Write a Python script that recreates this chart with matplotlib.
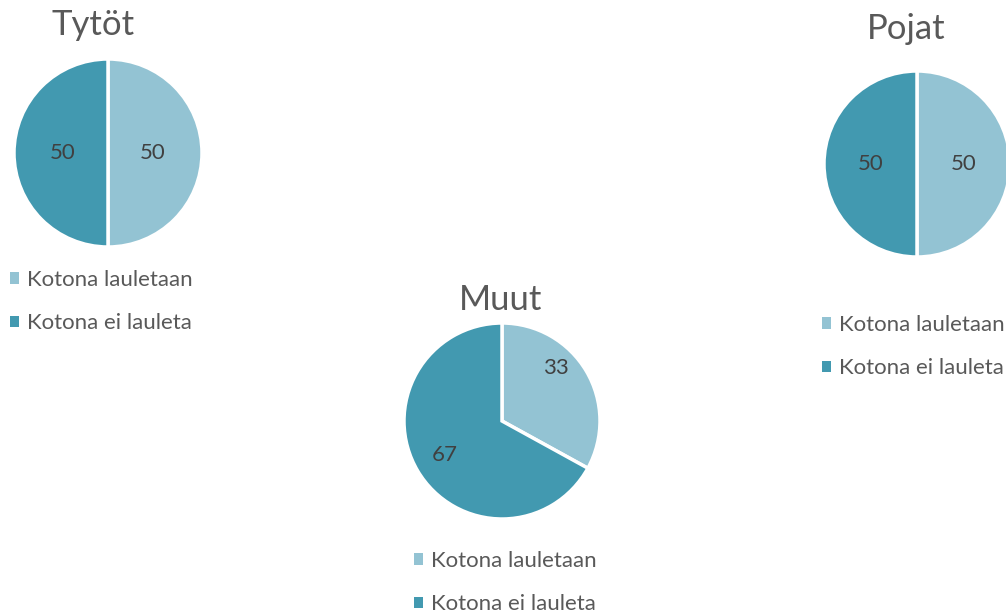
import numpy as np
import matplotlib.pyplot as plt
from matplotlib.legend import Legend

# data
categories = ["Kotona lauletaan", "Kotona ei lauleta"]
titles = ["Tytöt", "Pojat", "Muut"]
tytot_values = [50, 50]
pojat_values = [50, 50]
muut_values = [33, 67]

colors = ["#93c3d3", "#4299b0"]
H = 613

plt.rcParams['font.family'] = ['Lato', 'DejaVu Sans']

fig = plt.figure(figsize=(10.06, 6.13), dpi=100)
ax = fig.add_axes([0, 0, 1, 1])

# layout in pixel coords: (cx, cy, r, title xy, legend xy, pctdistance)
layout = [
    (tytot_values, titles[0], 108, 153, 94, (93, 25), (10, 270), 0.48),
    (pojat_values, titles[1], 917, 164, 93, (906, 29), (822, 315), 0.5),
    (muut_values, titles[2], 502, 421, 98, (501, 300), (414, 551), 0.68),
]

for vals, title, cx, cy, r, txy, lxy, pd in layout:
    wedges, texts, autotexts = ax.pie(
        vals, colors=colors, startangle=90, counterclock=False,
        center=(cx, H - cy), radius=r,
        autopct=lambda p: f"{p:.0f}", pctdistance=pd,
        wedgeprops=dict(edgecolor="white", linewidth=2.5),
        textprops=dict(fontsize=16, color="#404040"),
    )
    if vals[0] != vals[1]:
        # excel "best fit" puts the small label a bit higher
        a = np.deg2rad(45)
        autotexts[0].set_position((cx + 0.78 * r * np.cos(a), H - cy + 0.76 * r * np.sin(a)))
    ax.text(txy[0], H - txy[1], title, ha="center", va="center",
            fontsize=25, color="#595959")
    leg = Legend(ax, wedges, categories, loc="upper left",
                 bbox_to_anchor=(lxy[0], H - lxy[1]),
                 bbox_transform=ax.transData, frameon=False,
                 fontsize=16, labelcolor="#595959",
                 handlelength=0.42, handleheight=0.42,
                 handletextpad=0.35, labelspacing=1.05,
                 borderpad=0, borderaxespad=0)
    for h in leg.legend_handles:
        h.set_edgecolor("none")
    ax.add_artist(leg)

ax.set_xlim(0, 1006)
ax.set_ylim(0, H)
ax.set_aspect("equal")
ax.axis("off")

fig.savefig("out.png", dpi=100)
